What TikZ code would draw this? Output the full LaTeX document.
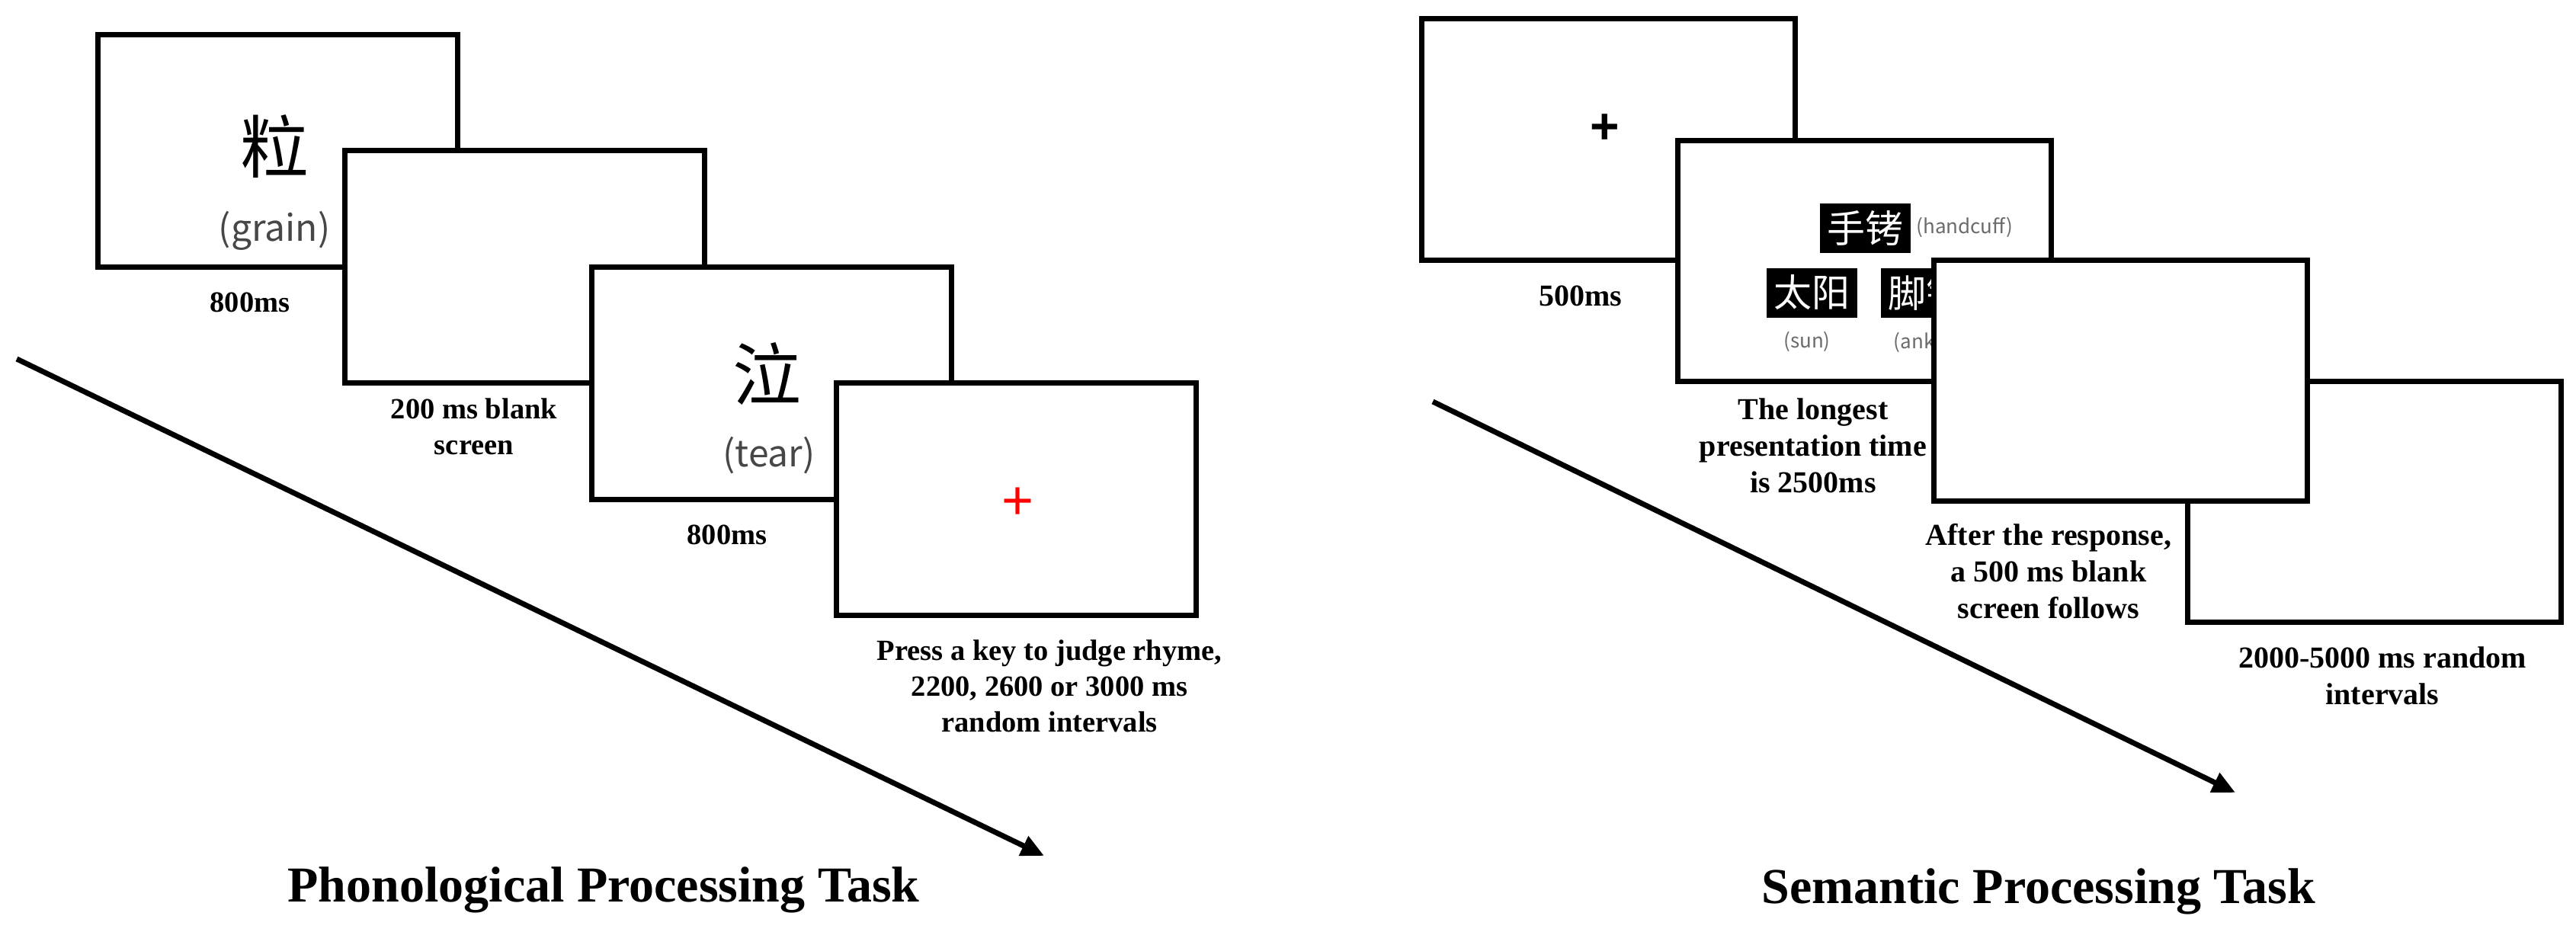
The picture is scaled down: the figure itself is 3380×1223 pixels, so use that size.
\documentclass[tikz,border=0pt]{standalone}
\usepackage{fontspec}
\setmainfont{Liberation Serif}
\newfontfamily\cjk{Noto Sans CJK SC}
\newfontfamily\sansf{Liberation Sans}
\usetikzlibrary{arrows.meta}
\begin{document}
\begin{tikzpicture}[x=1pt,y=-1pt,
  screenL/.style={draw=black, line width=7pt, fill=white, minimum width=472pt, minimum height=305pt, inner sep=0pt},
  screenR/.style={draw=black, line width=7pt, fill=white, minimum width=490pt, minimum height=316pt, inner sep=0pt},
  lblL/.style={font=\bfseries\fontsize{38.5}{47}\selectfont, align=center, inner sep=0pt},
  lblR/.style={font=\bfseries\fontsize{40}{48}\selectfont, align=center, inner sep=0pt},
  bigchar/.style={font=\cjk\fontsize{90}{100}\selectfont, inner sep=0pt},
  gloss/.style={font=\cjk\fontsize{48}{56}\selectfont, text=black!72, inner sep=0pt},
  smallgloss/.style={font=\cjk\fontsize{26}{30}\selectfont, text=black!58, inner sep=0pt},
  wordbox/.style={fill=black, text=white, font=\cjk\fontsize{50}{56}\selectfont, minimum width=119pt, minimum height=65pt, inner sep=0pt},
  timeline/.style={line width=7pt, -{Triangle[length=30pt,width=27pt]}},
  title/.style={font=\bfseries\fontsize{66}{79}\selectfont, inner sep=0pt, anchor=base}
]
\useasboundingbox (0,0) rectangle (3380,1223);
\fill[white] (0,0) rectangle (3380,1223);

% ---------------- Phonological task ----------------
\node[screenL] (b1) at (364,198) {};
\node[bigchar] (c1) at (360,192) {粒};
\node[gloss] (g1) at (360,303) {(grain)};
\node[screenL] (b2) at (688.5,349.5) {};
\node[screenL] (b3) at (1012.5,502.5) {};
\node[bigchar] (c3) at (1006,490) {泣};
\node[gloss] (g3) at (1009,598) {(tear)};
\node[screenL] (b4) at (1333,655) {};
\node[font=\sansf\fontsize{72}{80}\selectfont, text=red, inner sep=0pt] (p4) at (1336,661) {+};

\node[lblL] (l1) at (328,397) {800ms};
\node[lblL] (l2) at (622,560) {200 ms blank\\screen};
\node[lblL] (l3) at (954,702) {800ms};
\node[lblL] (l4) at (1377,900) {Press a key to judge rhyme,\\2200, 2600 or 3000 ms\\random intervals};

\coordinate (a1s) at (22,471);
\coordinate (a1e) at (1370,1123);
\draw[timeline] (a1s) -- (a1e);
\node[title] (t1) at (792,1183) {Phonological Processing Task};

% ---------------- Semantic task ----------------
\node[screenR] (r1) at (2110,183) {};
\node[font=\bfseries\sansf\fontsize{66}{72}\selectfont, inner sep=0pt] (p1) at (2106,169) {+};
\node[screenR] (r2) at (2446,342) {};
\node[wordbox] (w1) at (2447.5,299.5) {手铐};
\node[smallgloss] (s1) at (2578,298) {(handcuff)};
\node[wordbox] (w2) at (2377.5,384) {太阳};
\node[wordbox] (w3) at (2527,384) {脚铐};
\node[smallgloss] (s2) at (2371,448) {(sun)};
\node[smallgloss] (s3) at (2527,449) {(ankle)};

\node[lblR] (m1) at (2074,388) {500ms};
\node[lblR] (m2) at (2379,585) {The longest\\presentation time\\is 2500ms};
\node[screenR] (r4) at (3115.5,658) {};
\node[screenR] (r3) at (2782.5,499) {};
\node[lblR] (m3) at (2688,750) {After the response,\\a 500 ms blank\\screen follows};
\node[lblR] (m4) at (3126,887) {2000-5000 ms random\\intervals};

\coordinate (a2s) at (1880,527);
\coordinate (a2e) at (2933,1040);
\draw[timeline] (a2s) -- (a2e);
\node[title] (t2) at (2675,1185) {Semantic Processing Task};
\end{tikzpicture}
\end{document}
